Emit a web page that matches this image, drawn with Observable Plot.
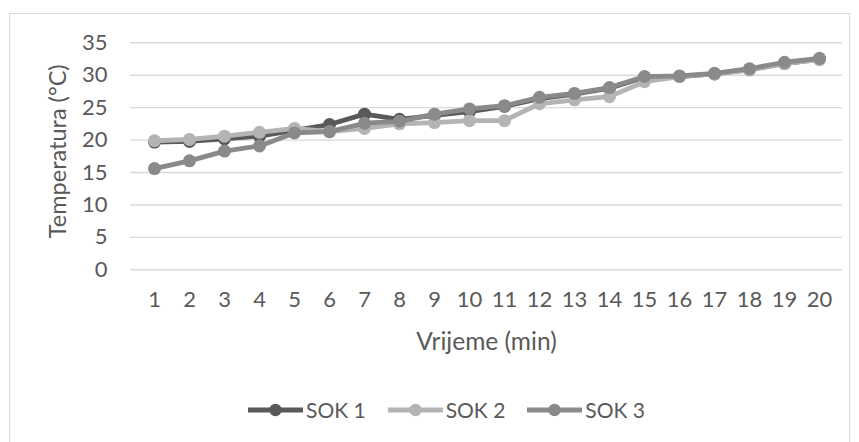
<!DOCTYPE html>
<html>
<head>
<meta charset="utf-8">
<script src="https://cdn.jsdelivr.net/npm/d3@7"></script>
<script src="https://cdn.jsdelivr.net/npm/@observablehq/plot@0.6"></script>
<style>
  html, body { margin: 0; padding: 0; background: #fff; }
  #wrap { position: relative; width: 859px; height: 442px; overflow: hidden; font-family: Lato, "Open Sans", sans-serif; color: #595959; }
  #border { position: absolute; left: 9px; top: 13px; width: 841px; height: 460px; border: 1px solid #d9d9d9; box-sizing: border-box; }
  #chart { position: absolute; left: 0; top: 0; }
  #legend { position: absolute; left: 248px; top: 398px; height: 24px; display: flex; align-items: center; font-size: 21px; color: #595959; }
  .item { display: flex; align-items: center; margin-right: 22px; }
  .item span { margin-left: 3px; line-height: 24px; }
</style>
</head>
<body>
<div id="wrap">
  <div id="border"></div>
  <div id="chart"></div>
  <div id="legend"></div>
</div>
<script>
const minutes = [1,2,3,4,5,6,7,8,9,10,11,12,13,14,15,16,17,18,19,20];
const sok1 = [19.7,19.8,20.2,20.6,21.5,22.4,24.0,23.2,23.8,24.4,25.2,26.4,27.1,28.0,29.7,29.8,30.2,30.9,31.8,32.5];
const sok2 = [19.9,20.1,20.6,21.2,21.8,21.3,21.8,22.5,22.7,23.0,23.0,25.6,26.2,26.7,29.0,29.8,30.2,30.8,31.8,32.4];
const sok3 = [15.6,16.8,18.3,19.1,21.1,21.3,22.6,22.9,24.0,24.8,25.3,26.6,27.2,28.1,29.8,29.9,30.3,31.0,32.0,32.6];
const seriesNames = ["SOK 1", "SOK 2", "SOK 3"];
const seriesColors = ["#595959", "#b4b4b4", "#8a8a8a"];
const yTicks = [0,5,10,15,20,25,30,35];
const xTitle = "Vrijeme (min)";
const yTitle = "Temperatura (°C)";

const allSeries = [sok1, sok2, sok3];
const marks = [
  Plot.gridY(yTicks, {stroke: "#d9d9d9", strokeOpacity: 1, strokeWidth: 1.4}),
  Plot.axisY({ticks: yTicks, tickSize: 0, tickPadding: 23, fontSize: 22, color: "#595959", label: null}),
  Plot.axisX({tickSize: 0, tickPadding: 22, fontSize: 22, color: "#595959", label: null}),
  Plot.text([yTitle], {frameAnchor: "left", textAnchor: "middle", lineAnchor: "middle", rotate: -90, dx: -72, dy: -5, fontSize: 23.5, fill: "#595959"}),
  Plot.text([xTitle], {frameAnchor: "bottom", textAnchor: "middle", lineAnchor: "middle", dy: 72, fontSize: 24.5, fill: "#595959"})
];
allSeries.forEach((vals, i) => {
  const data = minutes.map((m, j) => ({m, v: vals[j]}));
  marks.push(Plot.line(data, {x: "m", y: "v", stroke: seriesColors[i], strokeWidth: 4.8, curve: "linear"}));
  marks.push(Plot.dot(data, {x: "m", y: "v", r: 6.5, fill: seriesColors[i], stroke: "none"}));
});

const chart = Plot.plot({
  width: 859,
  height: 380,
  marginLeft: 130,
  marginRight: 17,
  marginTop: 42.3,
  marginBottom: 110.7,
  style: {fontFamily: "Lato, 'Open Sans', sans-serif", background: "transparent", overflow: "visible"},
  x: {type: "point", domain: minutes, padding: 0.5, label: null},
  y: {domain: [0, 35], label: null},
  marks
});
document.getElementById("chart").appendChild(chart);

const legend = document.getElementById("legend");
seriesNames.forEach((name, i) => {
  const item = document.createElement("div");
  item.className = "item";
  item.innerHTML = `<svg width="55" height="14"><line x1="0" y1="7" x2="55" y2="7" stroke="${seriesColors[i]}" stroke-width="4.8"/><circle cx="27.5" cy="7" r="6.2" fill="${seriesColors[i]}"/></svg><span>${name}</span>`;
  legend.appendChild(item);
});
</script>
</body>
</html>
